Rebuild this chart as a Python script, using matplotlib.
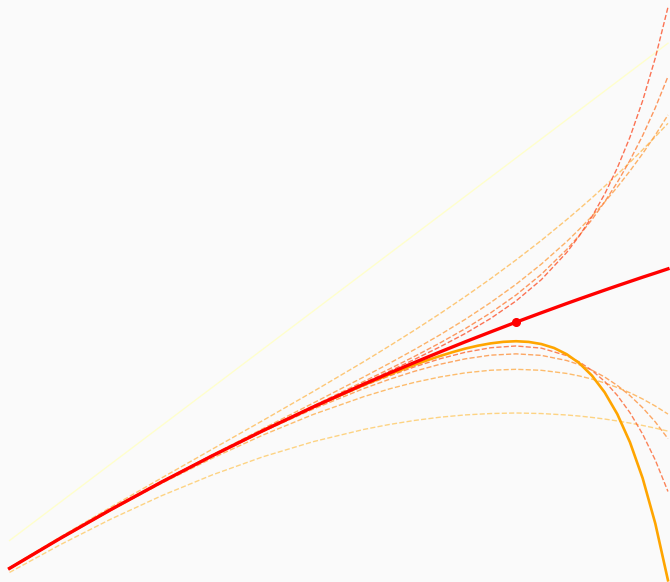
import numpy as np
import matplotlib
matplotlib.use("Agg")
import matplotlib.pyplot as plt

# arctan and its Taylor polynomials (orders 1..19)
x = [0.5, 0.55, 0.6, 0.65, 0.7, 0.75, 0.8, 0.85, 0.875, 0.9, 0.925, 0.95, 0.975, 1.0,
     1.025, 1.05, 1.0625, 1.075, 1.0875, 1.1, 1.1125, 1.125, 1.1375, 1.15]

arctan = [0.4636, 0.5028, 0.5404, 0.5764, 0.6107, 0.6435, 0.6747, 0.7045, 0.7188, 0.7328, 0.7465, 0.7598,
          0.7727, 0.7854, 0.7977, 0.8098, 0.8157, 0.8215, 0.8273, 0.8330, 0.8386, 0.8442, 0.8496, 0.8551]

t1 = [0.5, 0.55, 0.6, 0.65, 0.7, 0.75, 0.8, 0.85, 0.875, 0.9, 0.925, 0.95, 0.975, 1.0,
      1.025, 1.05, 1.0625, 1.075, 1.0875, 1.1, 1.1125, 1.125, 1.1375, 1.15]
t3 = [0.4583, 0.4945, 0.5280, 0.5585, 0.5857, 0.6094, 0.6293, 0.6453, 0.6517, 0.6570, 0.6612, 0.6642,
      0.6660, 0.6667, 0.6660, 0.6641, 0.6627, 0.6609, 0.6588, 0.6563, 0.6535, 0.6504, 0.6469, 0.6430]
t5 = [0.4646, 0.5046, 0.5436, 0.5817, 0.6193, 0.6568, 0.6949, 0.7340, 0.7543, 0.7751, 0.7966, 0.8190,
      0.8423, 0.8667, 0.8923, 0.9194, 0.9335, 0.9480, 0.9630, 0.9784, 0.9944, 1.0108, 1.0278, 1.0453]
t7 = [0.4635, 0.5024, 0.5396, 0.5747, 0.6075, 0.6378, 0.6649, 0.6882, 0.6982, 0.7068, 0.7138, 0.7192,
      0.7226, 0.7238, 0.7225, 0.7184, 0.7151, 0.7110, 0.7060, 0.7000, 0.6931, 0.6850, 0.6758, 0.6653]
t9 = [0.4637, 0.5029, 0.5407, 0.5770, 0.6120, 0.6461, 0.6798, 0.7140, 0.7316, 0.7498, 0.7689, 0.7892,
      0.8111, 0.8349, 0.8613, 0.8907, 0.9069, 0.9240, 0.9424, 0.9620, 0.9831, 1.0057, 1.0300, 1.0562]
t11 = [0.4636, 0.5028, 0.5403, 0.5762, 0.6102, 0.6423, 0.6720, 0.6988, 0.7107, 0.7213, 0.7304, 0.7375,
       0.7423, 0.7440, 0.7420, 0.7353, 0.7298, 0.7226, 0.7137, 0.7027, 0.6894, 0.6736, 0.6550, 0.6332]
t13 = [0.4636, 0.5029, 0.5404, 0.5765, 0.6109, 0.6441, 0.6762, 0.7081, 0.7242, 0.7408, 0.7583, 0.7770,
       0.7976, 0.8209, 0.8480, 0.8803, 0.8989, 0.9196, 0.9426, 0.9682, 0.9970, 1.0293, 1.0656, 1.1065]
t15 = [0.4636, 0.5028, 0.5404, 0.5763, 0.6106, 0.6432, 0.6739, 0.7022, 0.7152, 0.7271, 0.7376, 0.7461,
       0.7520, 0.7543, 0.7515, 0.7417, 0.7334, 0.7223, 0.7080, 0.6897, 0.6671, 0.6391, 0.6051, 0.5641]
t17 = [0.4636, 0.5028, 0.5404, 0.5764, 0.6108, 0.6436, 0.6752, 0.7059, 0.7213, 0.7369, 0.7532, 0.7707,
       0.7903, 0.8131, 0.8410, 0.8765, 0.8983, 0.9235, 0.9528, 0.9871, 1.0273, 1.0748, 1.1308, 1.1971]

# the highlighted order-19 curve, sampled finer around its peak
x19 = [0.5, 0.55, 0.6, 0.65, 0.7, 0.75, 0.8, 0.85, 0.875, 0.9, 0.9125, 0.925, 0.9375, 0.95, 0.9625,
       0.975, 0.9875, 1.0, 1.0125, 1.025, 1.0375, 1.05, 1.0625, 1.075, 1.0875, 1.1, 1.1125, 1.125,
       1.1375, 1.15]
t19 = [0.4636, 0.5028, 0.5404, 0.5764, 0.6107, 0.6434, 0.6745, 0.7035, 0.7171, 0.7298, 0.7357, 0.7412,
       0.7463, 0.7509, 0.7547, 0.7577, 0.7597, 0.7605, 0.7596, 0.7568, 0.7517, 0.7435, 0.7318, 0.7155,
       0.6937, 0.6652, 0.6284, 0.5815, 0.5222, 0.4480]

x0 = [1.0]
y0 = [0.7854]

dashed = [t3, t5, t7, t9, t11, t13, t15, t17]
colors = plt.cm.YlOrRd(np.linspace(0.3, 0.62, len(dashed)))

fig = plt.figure(figsize=(6.7, 5.82), dpi=100, facecolor='#fafafa')
ax = fig.add_axes([0, 0, 1, 1])
ax.set_facecolor('#fafafa')

ax.plot(x, t1, color='#ffffcc', lw=1)
for y, c in zip(dashed, colors):
    ax.plot(x, y, '--', color=c, lw=1, alpha=0.8)
ax.plot(x19, t19, color='orange', lw=1.9)
ax.plot(x, arctan, color='red', lw=2.4)
ax.plot(x0, y0, 'o', color='red', ms=5.5)

ax.set_xlim(0.4906, 1.152)
ax.set_ylim(0.4458, 1.2065)
ax.axis('off')

fig.savefig('out.png', dpi=100, facecolor=fig.get_facecolor())
